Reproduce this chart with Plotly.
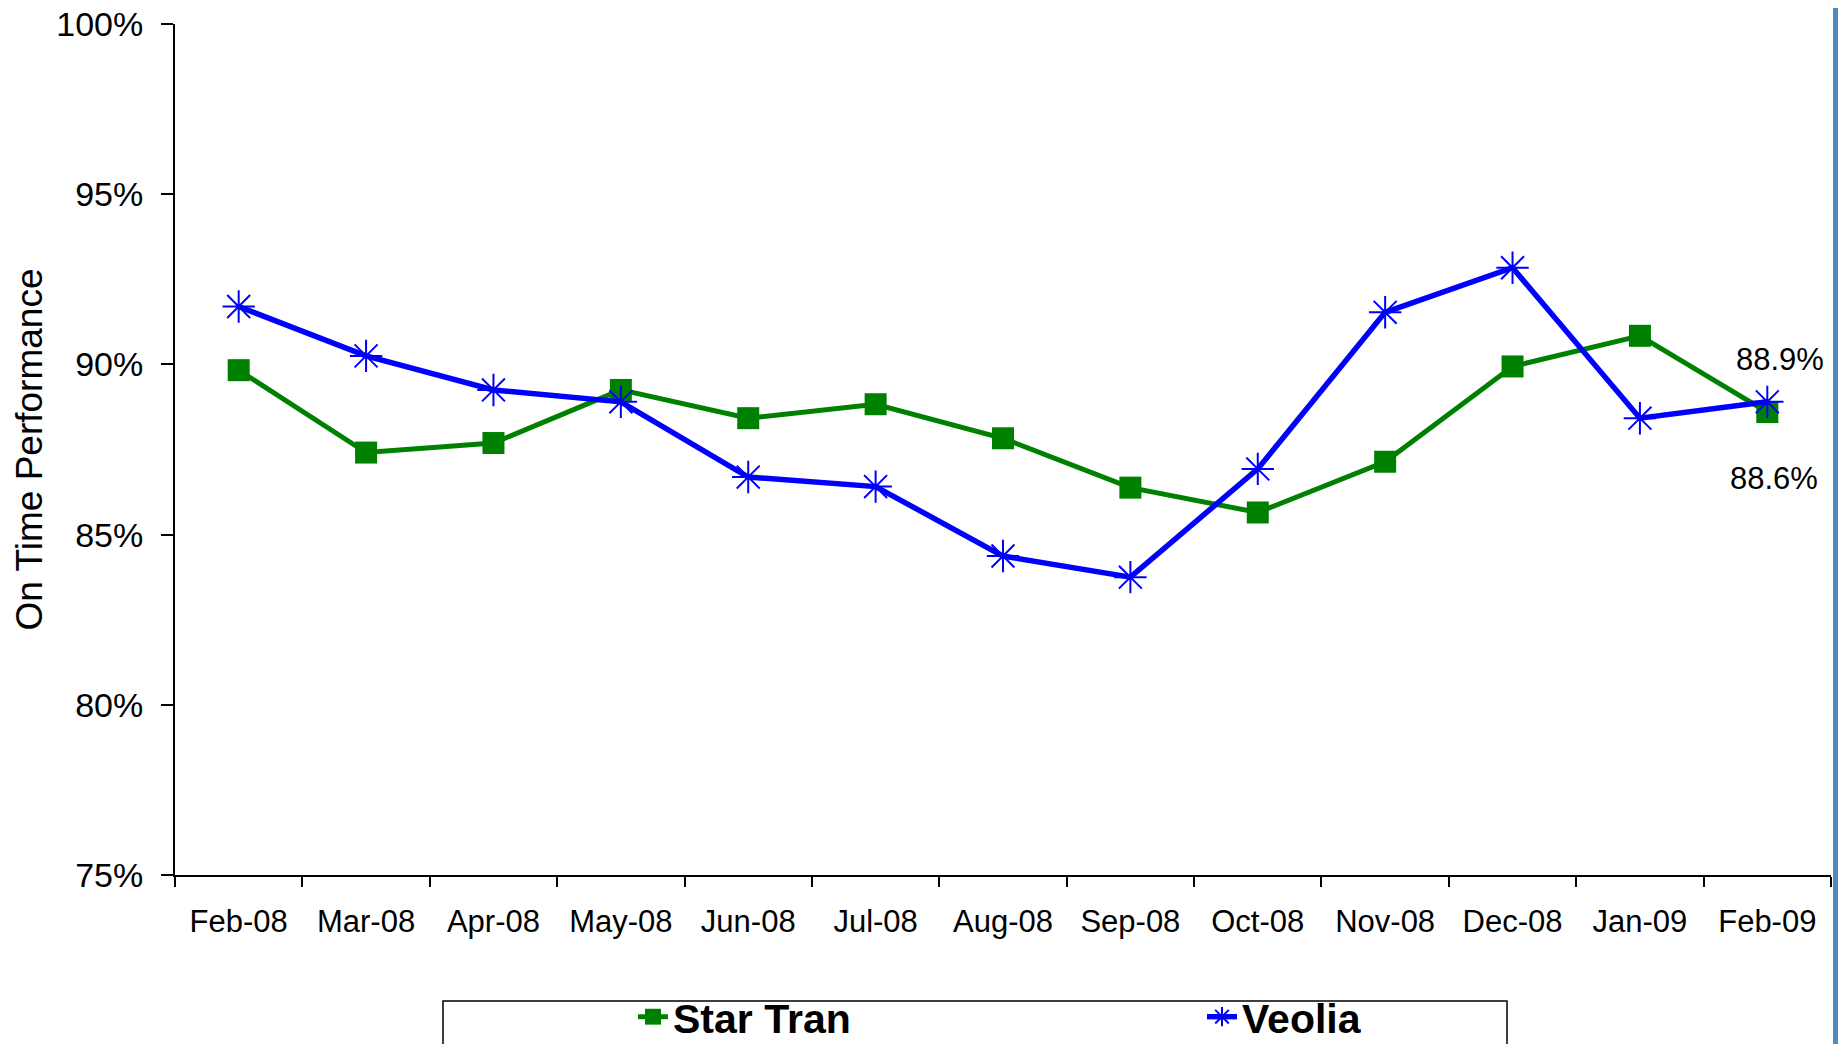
import plotly.graph_objects as go

months = ["Feb-08", "Mar-08", "Apr-08", "May-08", "Jun-08", "Jul-08", "Aug-08",
          "Sep-08", "Oct-08", "Nov-08", "Dec-08", "Jan-09", "Feb-09"]
star_tran = [89.83, 87.41, 87.69, 89.25, 88.42, 88.83, 87.83, 86.38, 85.65, 87.14, 89.94, 90.84, 88.6]
veolia = [91.70, 90.25, 89.25, 88.90, 86.69, 86.41, 84.37, 83.75, 86.93, 91.53, 92.84, 88.42, 88.9]
y_ticks = [75, 80, 85, 90, 95, 100]
y_tick_text = [f"{v}%" for v in y_ticks]

FONT = "Liberation Sans, Arial, sans-serif"
OFF = 8  # page body margin
W, H = 1846 - 2 * OFF, 1052 - 2 * OFF
L, R, T, B = 167, 7, 16, 169
PW = W - L - R
PH = H - T - B


def px_x(p):
    return (p - OFF - L) / PW


def px_y(p):
    return (T + PH - (p - OFF)) / PH


fig = go.Figure()
fig.add_trace(go.Scatter(
    x=months, y=star_tran, name="Star Tran", mode="lines+markers",
    line=dict(color="#008000", width=5),
    marker=dict(symbol="square", size=22, color="#008000"),
))
fig.add_trace(go.Scatter(
    x=months, y=veolia, name="Veolia", mode="lines+markers",
    line=dict(color="#0000FF", width=5.5),
    marker=dict(symbol="asterisk-open", size=27, color="#0000FF",
                line=dict(color="#0000FF", width=2)),
))

# data labels for last points
fig.add_annotation(x=months[-1], y=veolia[-1], text=f"{veolia[-1]:.1f}%",
                   showarrow=False, xshift=13, yshift=42,
                   font=dict(family=FONT, size=31, color="black"))
fig.add_annotation(x=months[-1], y=star_tran[-1], text=f"{star_tran[-1]:.1f}%",
                   showarrow=False, xshift=7, yshift=-66,
                   font=dict(family=FONT, size=31, color="black"))

# legend frame
fig.add_shape(type="rect", xref="paper", yref="paper",
              x0=px_x(443), x1=px_x(1507), y0=px_y(1200), y1=px_y(1001),
              line=dict(color="black", width=1.5), fillcolor="rgba(0,0,0,0)", layer="below")

# right edge blue bar (slide border)
fig.add_shape(type="rect", xref="paper", yref="paper",
              x0=px_x(1833), x1=px_x(1850), y0=px_y(1200), y1=px_y(-100),
              line=dict(width=0), fillcolor="#4F88C3", layer="above")

fig.update_layout(
    width=W, height=H,
    margin=dict(l=L, r=R, t=T, b=B, autoexpand=False),
    paper_bgcolor="white", plot_bgcolor="white",
    font=dict(family=FONT, color="black"),
    showlegend=True,
    legend=dict(
        orientation="h", x=px_x(633), xanchor="left",
        y=px_y(1017), yanchor="middle",
        entrywidth=524, entrywidthmode="pixels",
        font=dict(family=FONT, size=41, color="black", weight="bold"),
        bgcolor="rgba(0,0,0,0)", borderwidth=0,
    ),
    xaxis=dict(
        type="category", range=[-0.5, 12.5], tickson="boundaries",
        showline=True, linecolor="black", linewidth=2,
        ticks="outside", ticklen=10, tickwidth=2, tickcolor="black",
        showgrid=False, zeroline=False, automargin=False,
        tickfont=dict(family=FONT, size=31, color="black"),
        ticklabelstandoff=18,
    ),
    yaxis=dict(
        range=[75, 100], tickmode="array", tickvals=y_ticks, ticktext=y_tick_text,
        ticklabeloverflow="allow",
        showline=True, linecolor="black", linewidth=2,
        ticks="outside", ticklen=12, tickwidth=2, tickcolor="black",
        showgrid=False, zeroline=False, automargin=False,
        tickfont=dict(family=FONT, size=34, color="black"),
        ticklabelstandoff=11,
        title=dict(text="On Time Performance", standoff=2,
                   font=dict(family=FONT, size=37, color="black")),
    ),
)

fig.write_html("out.html")
